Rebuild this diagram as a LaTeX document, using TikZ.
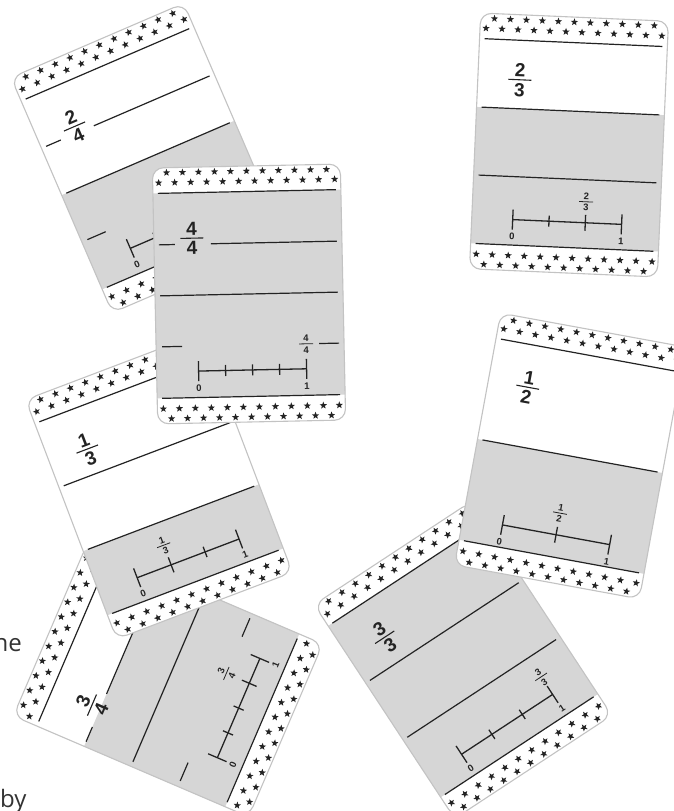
\documentclass[tikz,border=0pt]{standalone}
\usepackage{fontspec}
\setmainfont{Liberation Sans}
\newfontfamily\sidefont{Open Sans}
\definecolor{cardgray}{RGB}{214,214,214}
\definecolor{inkc}{RGB}{35,35,35}
\definecolor{edgegray}{RGB}{195,195,195}
\tikzset{
  cardrule/.style={draw=inkc, line width=1.2pt},
  nline/.style={draw=inkc, line width=1.3pt},
  digit/.style={inner sep=0pt, text=inkc, font=\fontsize{19}{19}\selectfont\bfseries},
  smalldigit/.style={inner sep=0pt, text=inkc, font=\fontsize{9.5}{9.5}\selectfont\bfseries},
  sidetext/.style={inner sep=0pt, text=black!80, font=\sidefont\fontsize{24}{24}\selectfont},
  pics/starmark/.style={code={\fill[inkc] (0,3.8)--(-0.94,1.29)--(-3.61,1.17)--(-1.52,-0.49)--(-2.23,-3.07)--(0,-1.6)--(2.23,-3.07)--(1.52,-0.49)--(3.61,1.17)--(0.94,1.29)--cycle;}},
  pics/bigfr/.style 2 args={code={
    \node[digit] (-n) at (0,9.5) {#1};
    \draw[inkc, line width=1.1pt] (-11.5,0) -- (11.5,0);
    \node[digit] (-d) at (0,-10) {#2};}},
  pics/smallfr/.style 2 args={code={
    \node[smalldigit] (-n) at (0,5.5) {#1};
    \draw[inkc, line width=0.8pt] (-7,0) -- (7,0);
    \node[smalldigit] (-d) at (0,-6) {#2};}},
}
\newcommand\cardframe[1]{%
  \begin{scope}
    \clip[rounded corners=11pt] (-94,-128) rectangle (94,128);
    \fill[white] (-94,-128) rectangle (94,128);
    \fill[cardgray] (-94,#1) rectangle (94,-102.5);
    \foreach \i in {0,...,11}{\pic at ({-88+16*\i},113) {starmark}; \pic at ({-88+16*\i},-113) {starmark};}
    \foreach \i in {0,...,10}{\pic at ({-80+16*\i},123) {starmark}; \pic at ({-80+16*\i},-123) {starmark};}
  \end{scope}
  \draw[edgegray, line width=1.1pt, rounded corners=11pt] (-94,-128) rectangle (94,128);
  \draw[cardrule] (-89,102.5) -- (89,102.5) (-89,-102.5) -- (89,-102.5);
}
\newcommand\quarterlines{%
  \draw[cardrule] (-89,51) -- (-73,51) (-37,51) -- (89,51) (-89,0) -- (89,0)
                  (-88,-51) -- (-68,-51) (69,-51) -- (89,-51);}
\newcommand\thirdlines{%
  \draw[cardrule] (-89,34) -- (89,34) (-89,-34) -- (89,-34);}
\newcommand\numline[9]{%
  \draw[nline] (#3,#2) -- (#4,#2);
  \foreach \t in {0,...,#5}{%
    \pgfmathsetmacro\xx{#3+(#4-#3)*\t/#5}%
    \pgfmathsetmacro\hh{ifthenelse(\t==0 || \t==#5, 10, ifthenelse(\t==#6, 8, 5.5))}%
    \draw[nline] (\xx,#2-\hh) -- (\xx,#2+\hh);}
  \node[smalldigit] (#1zero) at (#3,#2-17) {0};
  \node[smalldigit] (#1one) at (#4,#2-17) {1};
  \pic (#1sf) at ({#3+(#4-#3)*#6/#5},{#2+#7}) {smallfr={#8}{#9}};
}
\begin{document}
\begin{tikzpicture}[x=1pt, y=1pt]
\useasboundingbox (0,0) rectangle (673,811);
\fill[white] (0,0) rectangle (673,811);

% card 2/4
\begin{scope}[shift={(148,653)}, rotate=23.3, transform shape]
  \cardframe{0}
  \quarterlines
  \pic (c24f) at (-55,58) {bigfr={2}{4}};
  \numline{c24}{-76}{-52}{56}{4}{2}{25}{2}{4}
\end{scope}

% card 2/3
\begin{scope}[shift={(569,666)}, rotate=-2.5, transform shape]
  \cardframe{34}
  \thirdlines
  \pic (c23f) at (-52,63) {bigfr={2}{3}};
  \numline{c23}{-77}{-53}{56}{3}{2}{21}{2}{3}
\end{scope}

% card 3/4
\begin{scope}[shift={(168,131)}, rotate=66.8, transform shape]
  \cardframe{51}
  \quarterlines
  \pic (c34f) at (-53,60) {bigfr={3}{4}};
  \numline{c34}{-76}{-52}{56}{4}{3}{25}{3}{4}
\end{scope}

% card 1/3
\begin{scope}[shift={(159,325)}, rotate=20.8, transform shape]
  \cardframe{-34}
  \thirdlines
  \pic (c13f) at (-54,60) {bigfr={1}{3}};
  \numline{c13}{-78}{-53}{56}{3}{1}{21}{1}{3}
\end{scope}

% card 4/4
\begin{scope}[shift={(249,517)}, rotate=1.2, transform shape]
  \cardframe{102.5}
  \quarterlines
  \pic (c44f) at (-56,57) {bigfr={4}{4}};
  \numline{c44}{-76}{-52}{56}{4}{4}{25}{4}{4}
\end{scope}

% card 3/3
\begin{scope}[shift={(463,151)}, rotate=33.3, transform shape]
  \cardframe{102.5}
  \thirdlines
  \pic (c33f) at (-53,62) {bigfr={3}{3}};
  \numline{c33}{-78}{-53}{56}{3}{3}{21}{3}{3}
\end{scope}

% card 1/2
\begin{scope}[shift={(570,355)}, rotate=-10.4, transform shape]
  \cardframe{0}
  \draw[cardrule] (-89,0) -- (89,0);
  \pic (c12f) at (-54,60) {bigfr={1}{2}};
  \numline{c12}{-80}{-54}{55}{2}{1}{22}{1}{2}
\end{scope}

\node[sidetext, anchor=base east] (ne) at (22,159) {ne};
\node[sidetext, anchor=base west] (by) at (0,3) {by};
\end{tikzpicture}
\end{document}
